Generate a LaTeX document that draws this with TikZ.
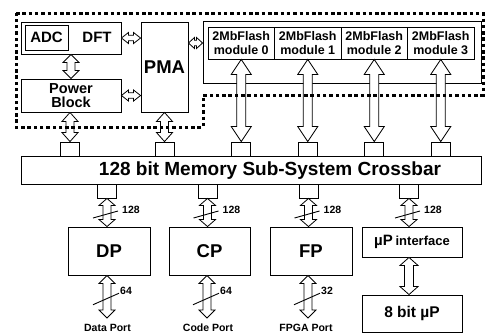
\documentclass[tikz,border=0pt]{standalone}
\usepackage{fontspec}
\setmainfont{Liberation Sans}
\usetikzlibrary{calc}
\newcommand\tsz[2]{\fontsize{#1}{#2}\selectfont\bfseries}
\tikzset{
  blk/.style={draw, line width=0.9pt, fill=white, inner sep=0pt, align=center},
  lbl/.style={inner sep=0pt},
  port/.style={draw, line width=0.9pt, fill=white, minimum width=19pt, minimum height=14pt, inner sep=0pt},
  busline/.style={draw, line width=0.8pt, fill=white, line join=miter},
  tick/.style={line width=0.9pt},
  fence/.style={line width=3pt, dash pattern=on 3.5pt off 2.8pt},
  % hollow two-headed bus arrow: head length / head half-width / shaft half-width
  bus/.style args={#1/#2/#3}{to path={
    -- ($(\tikztostart)!#1!(\tikztotarget)!#2!90:(\tikztotarget)$)
    -- ($(\tikztostart)!#1!(\tikztotarget)!#3!90:(\tikztotarget)$)
    -- ($(\tikztotarget)!#1!(\tikztostart)!#3!-90:(\tikztostart)$)
    -- ($(\tikztotarget)!#1!(\tikztostart)!#2!-90:(\tikztostart)$)
    -- (\tikztotarget)
    -- ($(\tikztotarget)!#1!(\tikztostart)!#2!90:(\tikztostart)$)
    -- ($(\tikztotarget)!#1!(\tikztostart)!#3!90:(\tikztostart)$)
    -- ($(\tikztostart)!#1!(\tikztotarget)!#3!-90:(\tikztotarget)$)
    -- ($(\tikztostart)!#1!(\tikztotarget)!#2!-90:(\tikztotarget)$)
    -- cycle}},
}
\begin{document}
\begin{tikzpicture}[x=1pt,y=-1pt]
\useasboundingbox (0,0) rectangle (486,333);

% test / power domain
\node[blk, minimum width=100pt, minimum height=32pt] (dft) at (71,38) {};
\node[blk, minimum width=43pt, minimum height=25pt, font={\tsz{15}{18}}] (adc) at (46.5,37.5) {ADC};
\node[lbl, font={\tsz{15}{18}}] (dftl) at (97,37) {DFT};
\node[blk, minimum width=100pt, minimum height=33pt, font={\tsz{14.5}{14}}] (pwr) at (71,95.5) {Power\\Block};
\node[blk, minimum width=47pt, minimum height=90pt, font={\tsz{18.5}{20}}] (pma) at (164.5,67) {PMA};

% flash array
\node[blk, minimum width=278pt, minimum height=62pt] (flash) at (342,52) {};
\foreach \i/\cx in {0/241.25,1/307.75,2/374.25,3/440.75}
  \node[blk, minimum width=66.5pt, minimum height=32pt, font={\tsz{12.5}{14.5}}] (m\i) at (\cx,43) {2MbFlash\\module \i};

% crossbar and its ports
\node[blk, minimum width=460pt, minimum height=28pt] (xbar) at (251,170) {};
\node[lbl, font={\tsz{19}{22}}] (xbarl) at (270,170.5) {128 bit Memory Sub-System Crossbar};
\node[port] (spw) at (70,149) {};
\node[port] (spm) at (164.5,149) {};
\foreach \i/\cx in {0/241.25,1/307.75,2/374.25,3/440.75}
  \node[port] (sm\i) at (\cx,149) {};
\node[port] (sdp) at (107,191) {};
\node[port] (scp) at (207.5,191) {};
\node[port] (sfp) at (308.5,191) {};
\node[port] (sumc) at (409,191) {};

% processors
\node[blk, minimum width=82pt, minimum height=48pt, font={\tsz{18.5}{20}}] (dp) at (109,251) {DP};
\node[blk, minimum width=81pt, minimum height=48pt, font={\tsz{18.5}{20}}] (cp) at (209.5,251) {CP};
\node[blk, minimum width=82pt, minimum height=48pt, font={\tsz{18.5}{20}}] (fp) at (311,251) {FP};
\node[blk, minimum width=100pt, minimum height=30pt] (upi) at (412,242) {{\tsz{15}{18}µP} {\tsz{13}{15}interface}};
\node[blk, minimum width=100pt, minimum height=37pt, font={\tsz{15.5}{18}}] (up8) at (412,313.5) {8 bit µP};

% external ports
\node[lbl, font={\tsz{10.5}{13}}] (dpo) at (107.5,327.5) {Data Port};
\node[lbl, font={\tsz{10.5}{13}}] (cpo) at (208,327.5) {Code Port};
\node[lbl, font={\tsz{10.5}{13}}] (fpo) at (306,327.5) {FPGA Port};
\coordinate (dpe) at (107,318);
\coordinate (cpe) at (207,318);
\coordinate (fpe) at (308,318);

% buses in the upper domain
\draw[busline] (dft.south) to[bus=8pt/8pt/4pt] (pwr.north);
\draw[busline] (dft.east) to[bus=7pt/5.5pt/2.8pt] (dft.east -| pma.west);
\draw[busline] (pwr.east) to[bus=7pt/5.5pt/2.8pt] (pwr.east -| pma.west);
\draw[busline] (pma.east |- m0) to[bus=6pt/5.5pt/2.8pt] (flash.west |- m0);
\draw[busline] (spw |- pwr.south) to[bus=9pt/8pt/4pt] (spw.north);
\draw[busline] (pma.south) to[bus=9pt/8pt/4pt] (spm.north);
\foreach \i in {0,...,3}
  \draw[busline] (m\i.south) to[bus=15pt/10pt/4.5pt] (sm\i.north);

% 128-bit buses from the crossbar
\foreach \s/\b in {sdp/dp, scp/cp, sfp/fp, sumc/upi} {
  \draw[busline] (\s.south) to[bus=7pt/8pt/4pt] (\s.south |- \b.north);
  \path (\s.south) -- (\s.south |- \b.north) coordinate[midway] (c\s);
  \draw[tick] ([shift={(-14,5.5)}]c\s) -- ([shift={(11,-1.5)}]c\s);
  \node[lbl, font={\tsz{10.5}{12}}] (w\s) at ([shift={(24,-3)}]c\s) {128};
}

% port buses
\foreach \b/\e/\n in {dp/dpe/64, cp/cpe/64, fp/fpe/32} {
  \draw[busline] (\e |- \b.south) to[bus=8pt/8pt/4pt] (\e);
  \path (\e |- \b.south) -- (\e) coordinate[midway] (c\b);
  \draw[tick] ([shift={(-14,8)}]c\b) -- ([shift={(12,-3.5)}]c\b);
  \node[lbl, font={\tsz{10.5}{12}}] (w\b) at ([shift={(19,-6)}]c\b) {\n};
}
\draw[busline] (sumc |- upi.south) to[bus=8pt/9pt/4.5pt] (sumc |- up8.north);

% dotted outline of the on-chip region
\draw[fence] (16,13) -- (483,13) -- (483,95) -- (203,95) -- (203,127) -- (16,127) -- cycle;
\end{tikzpicture}
\end{document}
